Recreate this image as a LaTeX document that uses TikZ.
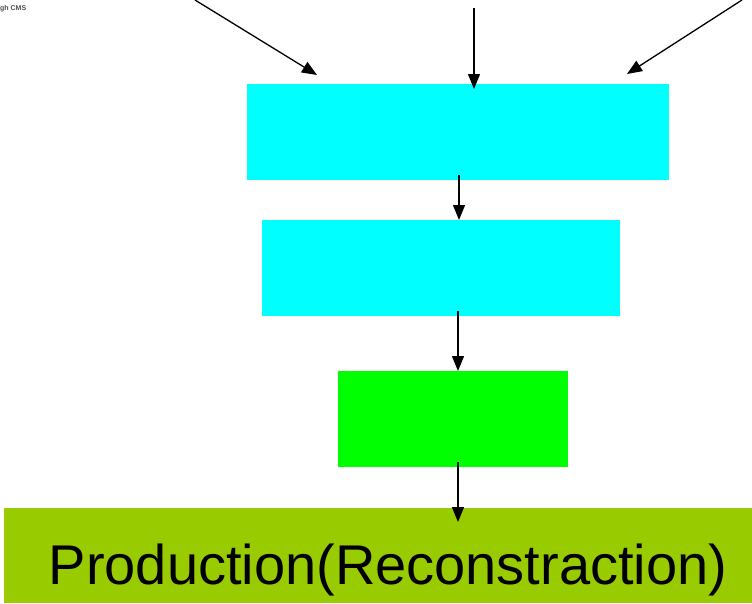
\documentclass[tikz,border=0pt]{standalone}
\usepackage{fontspec}
\setmainfont{Liberation Sans}
\usetikzlibrary{arrows.meta}
\definecolor{boxcyan}{HTML}{00FFFF}
\definecolor{boxgreen}{HTML}{00FF00}
\definecolor{boxolive}{HTML}{99CC00}
\begin{document}
\begin{tikzpicture}[x=1pt,y=-1pt,
  panel/.style={draw=none,inner sep=0pt,outer sep=0pt,anchor=north west},
  flow/.style={-{Triangle[length=15pt,width=12pt]},line width=1.3pt}]
\useasboundingbox (0,0) rectangle (752,603);
% stacked boxes
\node[panel,fill=boxcyan,minimum width=422pt,minimum height=96pt] (src) at (247,84) {};
\node[panel,fill=boxcyan,minimum width=358pt,minimum height=96pt] (mid) at (262,220) {};
\node[panel,fill=boxgreen,minimum width=230pt,minimum height=96pt] (sel) at (338,371) {};
\node[panel,fill=boxolive,minimum width=749pt,minimum height=95pt] (prod) at (4,508) {};
\node[anchor=base,inner sep=0pt,font=\fontsize{56}{60}\selectfont] (ptxt) at (388,584) {Production(Reconstraction)};
% cropped label in the corner
\node[anchor=north west,inner sep=0pt,text=black!70,font=\fontsize{7}{8}\selectfont\bfseries] (lbl) at (0,5) {gh CMS};
% incoming feeds from above
\coordinate (inL) at (195,0);
\coordinate (inC) at (474,8);
\coordinate (inR) at (742,0);
\coordinate (tipL) at (317,75);
\coordinate (tipC) at (474,89);
\coordinate (tipR) at (627,74);
\draw[flow] (inL) -- (tipL);
\draw[flow] (inC) -- (tipC);
\draw[flow] (inR) -- (tipR);
% vertical chain
\draw[flow] (459,175) -- (459,220);
\draw[flow] (458,311) -- (458,371);
\draw[flow] (458,462) -- (458,522);
\end{tikzpicture}
\end{document}
